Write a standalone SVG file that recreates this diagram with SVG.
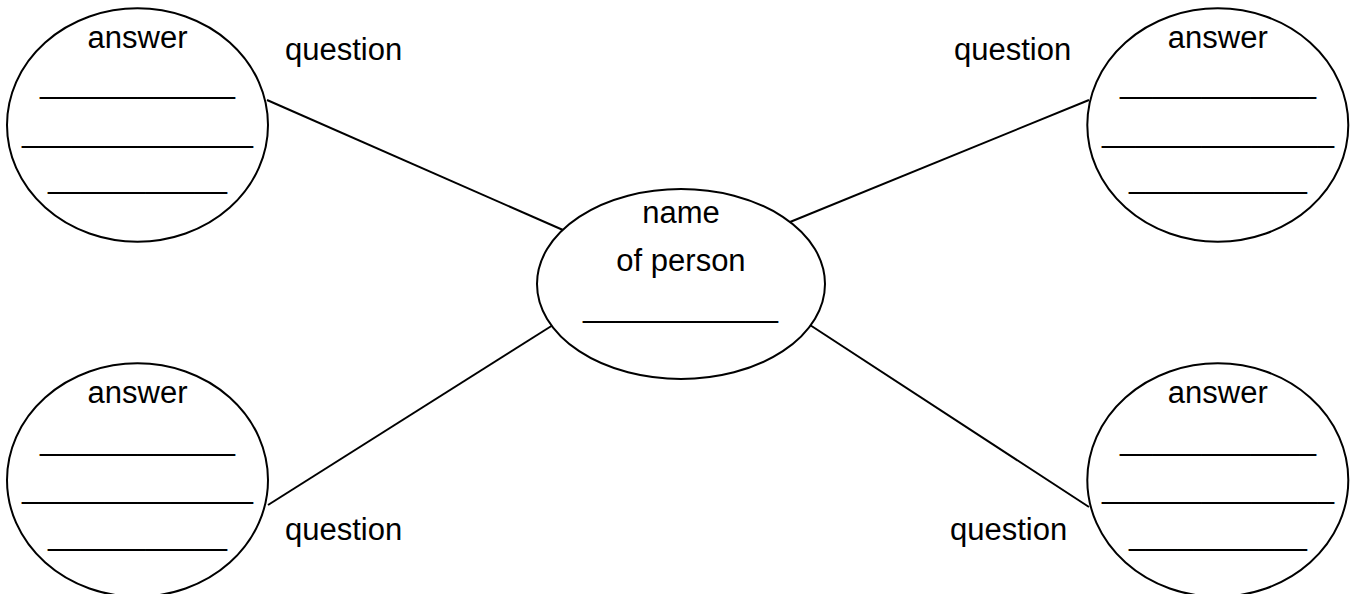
<svg xmlns="http://www.w3.org/2000/svg" width="1354" height="594" viewBox="0 0 1354 594">
<style>
.n{fill:#fff;stroke:#000;stroke-width:2}
.t{font-family:"Liberation Sans",Arial,sans-serif;font-size:31px;fill:#000}
.m{text-anchor:middle}
.c line{stroke:#000;stroke-width:2}
</style>
<rect width="1354" height="594" fill="#fff"/>
<g class="c" id="connectors">
<line x1="267" y1="100" x2="563" y2="230"/>
<line x1="1089" y1="100" x2="790" y2="222"/>
<line x1="268" y1="505" x2="553" y2="325"/>
<line x1="810" y1="325" x2="1089" y2="507"/>
</g>
<g id="center">
<ellipse class="n" cx="681" cy="284" rx="144" ry="95"/>
<text class="t m" x="681" y="223">name</text>
<text class="t m" x="681" y="271">of person</text>
<text class="t" x="583" y="317" textLength="195" lengthAdjust="spacingAndGlyphs">____________</text>
</g>
<g id="answer-tl">
<ellipse class="n" cx="137.5" cy="125" rx="130.5" ry="116.7"/>
<text class="t m" x="137.5" y="48">answer</text>
<text class="t" x="40" y="93" textLength="195" lengthAdjust="spacingAndGlyphs">____________</text>
<text class="t" x="22" y="142" textLength="231" lengthAdjust="spacingAndGlyphs">______________</text>
<text class="t" x="48" y="188" textLength="179" lengthAdjust="spacingAndGlyphs">___________</text>
</g>
<g id="answer-tr">
<ellipse class="n" cx="1217.8" cy="125" rx="130.5" ry="116.7"/>
<text class="t m" x="1217.8" y="48">answer</text>
<text class="t" x="1120" y="93" textLength="196" lengthAdjust="spacingAndGlyphs">____________</text>
<text class="t" x="1102" y="142" textLength="232" lengthAdjust="spacingAndGlyphs">______________</text>
<text class="t" x="1129" y="188" textLength="178" lengthAdjust="spacingAndGlyphs">___________</text>
</g>
<g id="answer-bl">
<ellipse class="n" cx="137.5" cy="480" rx="130.5" ry="116.7"/>
<text class="t m" x="137.5" y="403">answer</text>
<text class="t" x="40" y="450" textLength="195" lengthAdjust="spacingAndGlyphs">____________</text>
<text class="t" x="22" y="498" textLength="231" lengthAdjust="spacingAndGlyphs">______________</text>
<text class="t" x="48" y="545" textLength="179" lengthAdjust="spacingAndGlyphs">___________</text>
</g>
<g id="answer-br">
<ellipse class="n" cx="1217.8" cy="480" rx="130.5" ry="116.7"/>
<text class="t m" x="1217.8" y="403">answer</text>
<text class="t" x="1120" y="450" textLength="196" lengthAdjust="spacingAndGlyphs">____________</text>
<text class="t" x="1102" y="498" textLength="232" lengthAdjust="spacingAndGlyphs">______________</text>
<text class="t" x="1129" y="545" textLength="178" lengthAdjust="spacingAndGlyphs">___________</text>
</g>
<g id="labels">
<text class="t" x="285" y="60">question</text>
<text class="t" x="954" y="60">question</text>
<text class="t" x="285" y="540">question</text>
<text class="t" x="950" y="540">question</text>
</g>
</svg>
